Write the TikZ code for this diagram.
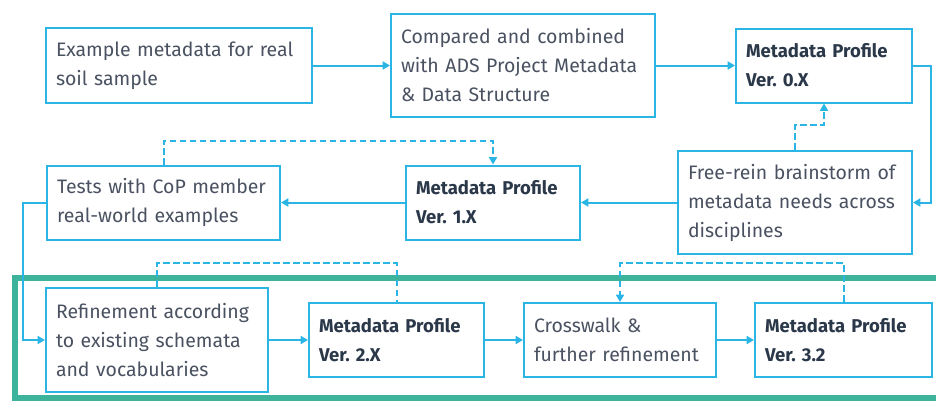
\documentclass[tikz,border=0pt]{standalone}
\usepackage{fontspec}
\setmainfont{Fira Sans}
\usetikzlibrary{arrows.meta}
\definecolor{cyanline}{HTML}{2BB5E4}
\definecolor{tealframe}{HTML}{3DB39B}
\definecolor{bodytext}{HTML}{4A5261}
\definecolor{headtext}{HTML}{2A3849}
\frenchspacing
\tikzset{
  box/.style={draw=cyanline, line width=1.5pt, fill=white, rectangle,
    inner xsep=7.5pt, inner ysep=0pt, align=left, text=bodytext,
    font=\fontsize{14.6}{21.75}\selectfont},
  head/.style={box, text=headtext, font=\fontsize{13.9}{21.75}\selectfont\bfseries},
  conn/.style={draw=cyanline, line width=1.5pt, -{Triangle[length=5.5pt,width=6pt]}},
  dconn/.style={conn, dash pattern=on 5pt off 2.5pt},
  dline/.style={draw=cyanline, line width=1.5pt, dash pattern=on 5pt off 2.5pt},
  frame/.style={draw=tealframe, line width=4.5pt}
}
\begin{document}
\begin{tikzpicture}[x=0.75pt,y=-0.75pt]
\clip (0,0) rectangle (936,401);
\useasboundingbox (0,0) rectangle (936,401);
\draw[frame] (15,278) rectangle (960,398);
% row 1
\node[box, minimum width=199.5pt, minimum height=56.25pt, text width=184.5pt] (A) at (179,65.5)
  {Example metadata for real\\soil sample};
\node[box, minimum width=198pt, minimum height=77.25pt, text width=183pt] (B) at (523,65.5)
  {Compared and combined\\with ADS Project Metadata\\\&~Data Structure};
\node[head, minimum width=132pt, minimum height=55.5pt, text width=117pt] (C) at (824,65.5)
  {Metadata Profile\\Ver. 0.X};
% row 2
\node[box, minimum width=175.5pt, minimum height=77.25pt, text width=160.5pt] (D) at (795,202.5)
  {Free-rein brainstorm of\\metadata needs across\\disciplines};
\node[head, minimum width=130.5pt, minimum height=55.5pt, text width=115.5pt] (E) at (493,202.5)
  {Metadata Profile\\Ver. 1.X};
\node[box, minimum width=174.75pt, minimum height=55.5pt, text width=159.75pt] (F) at (163.5,202.5)
  {Tests with CoP member\\real-world examples};
% row 3
\node[box, minimum width=166.5pt, minimum height=78pt, text width=151.5pt] (G) at (157,340)
  {Refinement according\\to existing schemata\\and vocabularies};
\node[head, minimum width=131.25pt, minimum height=55.5pt, text width=116.25pt] (H) at (396.5,340)
  {Metadata Profile\\Ver. 2.X};
\node[box, minimum width=144pt, minimum height=55.5pt, text width=129pt] (J) at (620,340)
  {Crosswalk \&\\further refinement};
\node[head, minimum width=132.75pt, minimum height=55.5pt, text width=117.75pt] (I) at (843.5,340)
  {Metadata Profile\\Ver. 3.2};
% solid connectors
\draw[conn] (A) -- (B);
\draw[conn] (B) -- (C);
\draw[conn] (C.east) -- ++(18,0) |- (D.east);
\draw[conn] (D) -- (E);
\draw[conn] (E) -- (F);
\draw[conn] (F.west) -- ++(-23,0) |- (G.west);
\draw[conn] (G) -- (H);
\draw[conn] (H) -- (J);
\draw[conn] (J) -- (I);
% dashed connectors
\draw[dconn] (D.north) -- ++(0,-25) -| (C.south);
\draw[dconn] (F.north) -- ++(0,-24) -| (E.north);
\draw[dline] (G.north) -- ++(0,-24) -| (H.north);
\draw[dconn] (I.north) -- ++(0,-39) -| (J.north);
\end{tikzpicture}
\end{document}
